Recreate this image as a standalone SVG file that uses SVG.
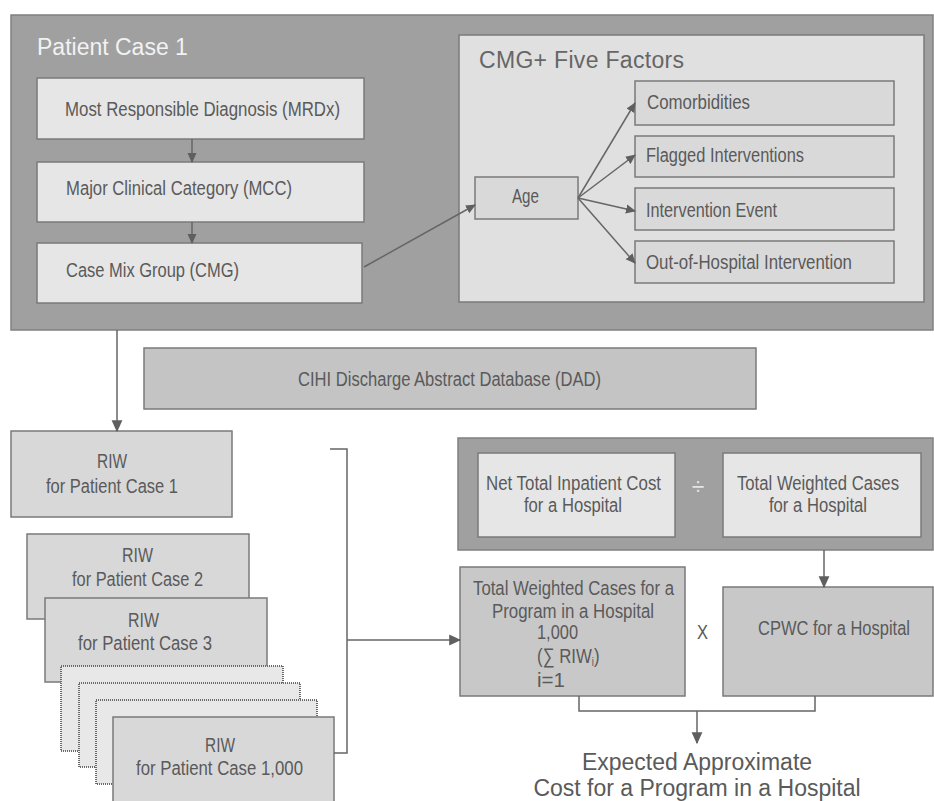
<svg xmlns="http://www.w3.org/2000/svg" width="934" height="801" viewBox="0 0 934 801">
  <defs>
    <marker id="arrow" viewBox="0 0 10 10" refX="9" refY="5" markerWidth="10" markerHeight="10" markerUnits="userSpaceOnUse" orient="auto">
      <path d="M0,0.5 L10,5 L0,9.5 Z" fill="#5f5f5f"/>
    </marker>
    <marker id="arrowBig" viewBox="0 0 10 10" refX="9" refY="5" markerWidth="12" markerHeight="12" markerUnits="userSpaceOnUse" orient="auto">
      <path d="M0,0.5 L10,5 L0,9.5 Z" fill="#5f5f5f"/>
    </marker>
    <style>
      .panel { fill: #a0a0a0; stroke: #808080; stroke-width: 1.5; }
      .light { fill: #e6e6e6; stroke: #7a7a7a; stroke-width: 1.5; }
      .inner { fill: #e0e0e0; stroke: #7a7a7a; stroke-width: 1.5; }
      .factor { fill: #d9d9d9; stroke: #7a7a7a; stroke-width: 1.5; }
      .mid { fill: #d8d8d8; stroke: #7a7a7a; stroke-width: 1.5; }
      .db { fill: #c4c4c4; stroke: #7a7a7a; stroke-width: 1.5; }
      .calc { fill: #c8c8c8; stroke: #7a7a7a; stroke-width: 1.5; }
      .ghost { fill: #e8e8e8; stroke: #6a6a6a; stroke-width: 2; stroke-dasharray: 1 1; }
      /* condensed labels: each is squeezed horizontally by scale(0.8 1) in its transform */
      .lbl { font-family: "Liberation Sans", Arial, sans-serif; font-size: 21px; fill: #5a5a5a; }
      .mid-t { text-anchor: middle; }
      .head { font-family: "Liberation Sans", Arial, sans-serif; font-size: 23px; }
      .conn { fill: none; stroke: #666666; stroke-width: 1.5; }
    </style>
  </defs>

  <!-- Patient case panel -->
  <g id="patient-case">
    <rect class="panel" x="11" y="15" width="922" height="315"/>
    <text class="head" x="37" y="55" fill="#f2f2f2" font-size="22.5">Patient Case 1</text>
  </g>

  <g id="mrdx">
    <rect class="light" x="37" y="78" width="327" height="61"/>
    <text class="lbl" transform="translate(65 116) scale(0.8 1)" textLength="343.75" lengthAdjust="spacingAndGlyphs">Most Responsible Diagnosis (MRDx)</text>
  </g>
  <g id="mcc">
    <rect class="light" x="37" y="162" width="327" height="60"/>
    <text class="lbl" transform="translate(66 195) scale(0.8 1)" textLength="282.5" lengthAdjust="spacingAndGlyphs">Major Clinical Category (MCC)</text>
  </g>
  <g id="cmg">
    <rect class="light" x="37" y="243" width="325" height="60"/>
    <text class="lbl" transform="translate(66 277) scale(0.8 1)" textLength="216.25" lengthAdjust="spacingAndGlyphs">Case Mix Group (CMG)</text>
  </g>

  <!-- CMG+ factors panel -->
  <g id="five-factors">
    <rect class="inner" x="459" y="35" width="465" height="267"/>
    <text class="head" x="479" y="68" fill="#666666" textLength="205" lengthAdjust="spacing">CMG+ Five Factors</text>
  </g>
  <g id="age">
    <rect class="factor" x="475" y="177" width="103" height="42"/>
    <text class="lbl" transform="translate(512 203) scale(0.8 1)" textLength="33.75" lengthAdjust="spacingAndGlyphs">Age</text>
  </g>
  <g id="comorbidities">
    <rect class="factor" x="635" y="81" width="259" height="44"/>
    <text class="lbl" transform="translate(647 109) scale(0.8 1)" textLength="128.75" lengthAdjust="spacingAndGlyphs">Comorbidities</text>
  </g>
  <g id="flagged">
    <rect class="factor" x="635" y="136" width="259" height="41"/>
    <text class="lbl" transform="translate(646 162) scale(0.8 1)" textLength="197.5" lengthAdjust="spacingAndGlyphs">Flagged Interventions</text>
  </g>
  <g id="intervention-event">
    <rect class="factor" x="635" y="188" width="259" height="42"/>
    <text class="lbl" transform="translate(646 217) scale(0.8 1)" textLength="163.75" lengthAdjust="spacingAndGlyphs">Intervention Event</text>
  </g>
  <g id="out-of-hospital">
    <rect class="factor" x="635" y="241" width="259" height="42"/>
    <text class="lbl" transform="translate(646 269) scale(0.8 1)" textLength="257.5" lengthAdjust="spacingAndGlyphs">Out-of-Hospital Intervention</text>
  </g>

  <!-- Database bar -->
  <g id="dad">
    <rect class="db" x="144" y="348" width="612" height="61"/>
    <text class="lbl" transform="translate(298 386) scale(0.8 1)" textLength="378.75" lengthAdjust="spacingAndGlyphs">CIHI Discharge Abstract Database (DAD)</text>
  </g>

  <!-- RIW stack -->
  <g id="riw-1">
    <rect class="mid" x="11" y="431" width="221" height="86"/>
    <text class="lbl" transform="translate(97 468) scale(0.8 1)" textLength="37.5" lengthAdjust="spacingAndGlyphs">RIW</text>
    <text class="lbl" transform="translate(46 493) scale(0.8 1)" textLength="165" lengthAdjust="spacingAndGlyphs">for Patient Case 1</text>
  </g>
  <g id="riw-2">
    <rect class="mid" x="27" y="534" width="222" height="85"/>
    <text class="lbl" transform="translate(122 562) scale(0.8 1)" textLength="38.75" lengthAdjust="spacingAndGlyphs">RIW</text>
    <text class="lbl" transform="translate(72 586) scale(0.8 1)" textLength="163.75" lengthAdjust="spacingAndGlyphs">for Patient Case 2</text>
  </g>
  <g id="riw-3">
    <rect class="mid" x="45" y="598" width="222" height="84"/>
    <text class="lbl" transform="translate(128 627) scale(0.8 1)" textLength="38.75" lengthAdjust="spacingAndGlyphs">RIW</text>
    <text class="lbl" transform="translate(78 650) scale(0.8 1)" textLength="167.5" lengthAdjust="spacingAndGlyphs">for Patient Case 3</text>
  </g>
  <g id="riw-more">
    <rect class="ghost" x="61" y="666" width="222" height="85"/>
    <rect class="ghost" x="79" y="683" width="221" height="84"/>
    <rect class="ghost" x="96" y="700" width="221" height="84"/>
  </g>
  <g id="riw-1000">
    <rect class="mid" x="113" y="717" width="221" height="90"/>
    <text class="lbl" transform="translate(205 752) scale(0.8 1)" textLength="37.5" lengthAdjust="spacingAndGlyphs">RIW</text>
    <text class="lbl" transform="translate(136 775) scale(0.8 1)" textLength="208.75" lengthAdjust="spacingAndGlyphs">for Patient Case 1,000</text>
  </g>

  <!-- Cost per weighted case -->
  <g id="cpwc-calc">
    <rect class="panel" x="458" y="438" width="475" height="112"/>
    <text class="head mid-t" x="698" y="495" fill="#e4e4e4" font-size="24">÷</text>
  </g>
  <g id="net-cost">
    <rect class="light" x="478" y="453" width="197" height="84"/>
    <text class="lbl" transform="translate(486 490) scale(0.8 1)" textLength="218.75" lengthAdjust="spacingAndGlyphs">Net Total Inpatient Cost</text>
    <text class="lbl" transform="translate(524 512) scale(0.8 1)" textLength="122.5" lengthAdjust="spacingAndGlyphs">for a Hospital</text>
  </g>
  <g id="weighted-cases">
    <rect class="light" x="723" y="453" width="198" height="84"/>
    <text class="lbl" transform="translate(737 490) scale(0.8 1)" textLength="202.5" lengthAdjust="spacingAndGlyphs">Total Weighted Cases</text>
    <text class="lbl" transform="translate(769 512) scale(0.8 1)" textLength="122.5" lengthAdjust="spacingAndGlyphs">for a Hospital</text>
  </g>
  <g id="program-cases">
    <rect class="calc" x="460" y="567" width="225" height="129"/>
    <text class="lbl" transform="translate(473 595) scale(0.8 1)" textLength="251.25" lengthAdjust="spacingAndGlyphs">Total Weighted Cases for a</text>
    <text class="lbl" transform="translate(492 618) scale(0.8 1)" textLength="202.5" lengthAdjust="spacingAndGlyphs">Program in a Hospital</text>
    <text class="lbl" transform="translate(537 639) scale(0.8 1)" textLength="51.25" lengthAdjust="spacingAndGlyphs">1,000</text>
    <text class="lbl" transform="translate(537 663) scale(0.8 1)">(∑ RIW<tspan font-size="12" dy="3">i</tspan><tspan dy="-3">)</tspan></text>
    <text class="lbl" transform="translate(537 687) scale(0.8 1)" textLength="35" lengthAdjust="spacingAndGlyphs">i=1</text>
  </g>
  <g id="times">
    <text class="lbl" transform="translate(697 639) scale(0.8 1)" textLength="13.75" lengthAdjust="spacingAndGlyphs">X</text>
  </g>
  <g id="cpwc">
    <rect class="calc" x="723" y="587" width="210" height="109"/>
    <text class="lbl" transform="translate(758 635) scale(0.8 1)" textLength="190" lengthAdjust="spacingAndGlyphs">CPWC for a Hospital</text>
  </g>
  <g id="expected-cost">
    <text class="head mid-t" x="697" y="770" fill="#5a5a5a" font-size="23.5">Expected Approximate</text>
    <text class="head mid-t" x="697" y="796" fill="#5a5a5a" font-size="23.5">Cost for a Program in a Hospital</text>
  </g>

  <!-- Connectors -->
  <g id="connectors">
    <line class="conn" x1="192" y1="139" x2="192" y2="162" marker-end="url(#arrow)"/>
    <line class="conn" x1="192" y1="222" x2="192" y2="243" marker-end="url(#arrow)"/>
    <line class="conn" x1="364" y1="267" x2="475" y2="205" marker-end="url(#arrow)"/>
    <line class="conn" x1="578" y1="198" x2="635" y2="103" marker-end="url(#arrow)"/>
    <line class="conn" x1="578" y1="198" x2="635" y2="155" marker-end="url(#arrow)"/>
    <line class="conn" x1="578" y1="198" x2="635" y2="211" marker-end="url(#arrow)"/>
    <line class="conn" x1="578" y1="198" x2="635" y2="263" marker-end="url(#arrow)"/>
    <line class="conn" x1="117" y1="330" x2="117" y2="431" marker-end="url(#arrowBig)"/>
    <polyline class="conn" points="330,449 347,449 347,753 334,753"/>
    <line class="conn" x1="347" y1="640" x2="460" y2="640" marker-end="url(#arrowBig)"/>
    <line class="conn" x1="824" y1="550" x2="824" y2="587" marker-end="url(#arrowBig)"/>
    <polyline class="conn" points="579,696 579,711 815,711 815,696"/>
    <line class="conn" x1="697" y1="711" x2="697" y2="743" marker-end="url(#arrowBig)"/>
  </g>
</svg>
